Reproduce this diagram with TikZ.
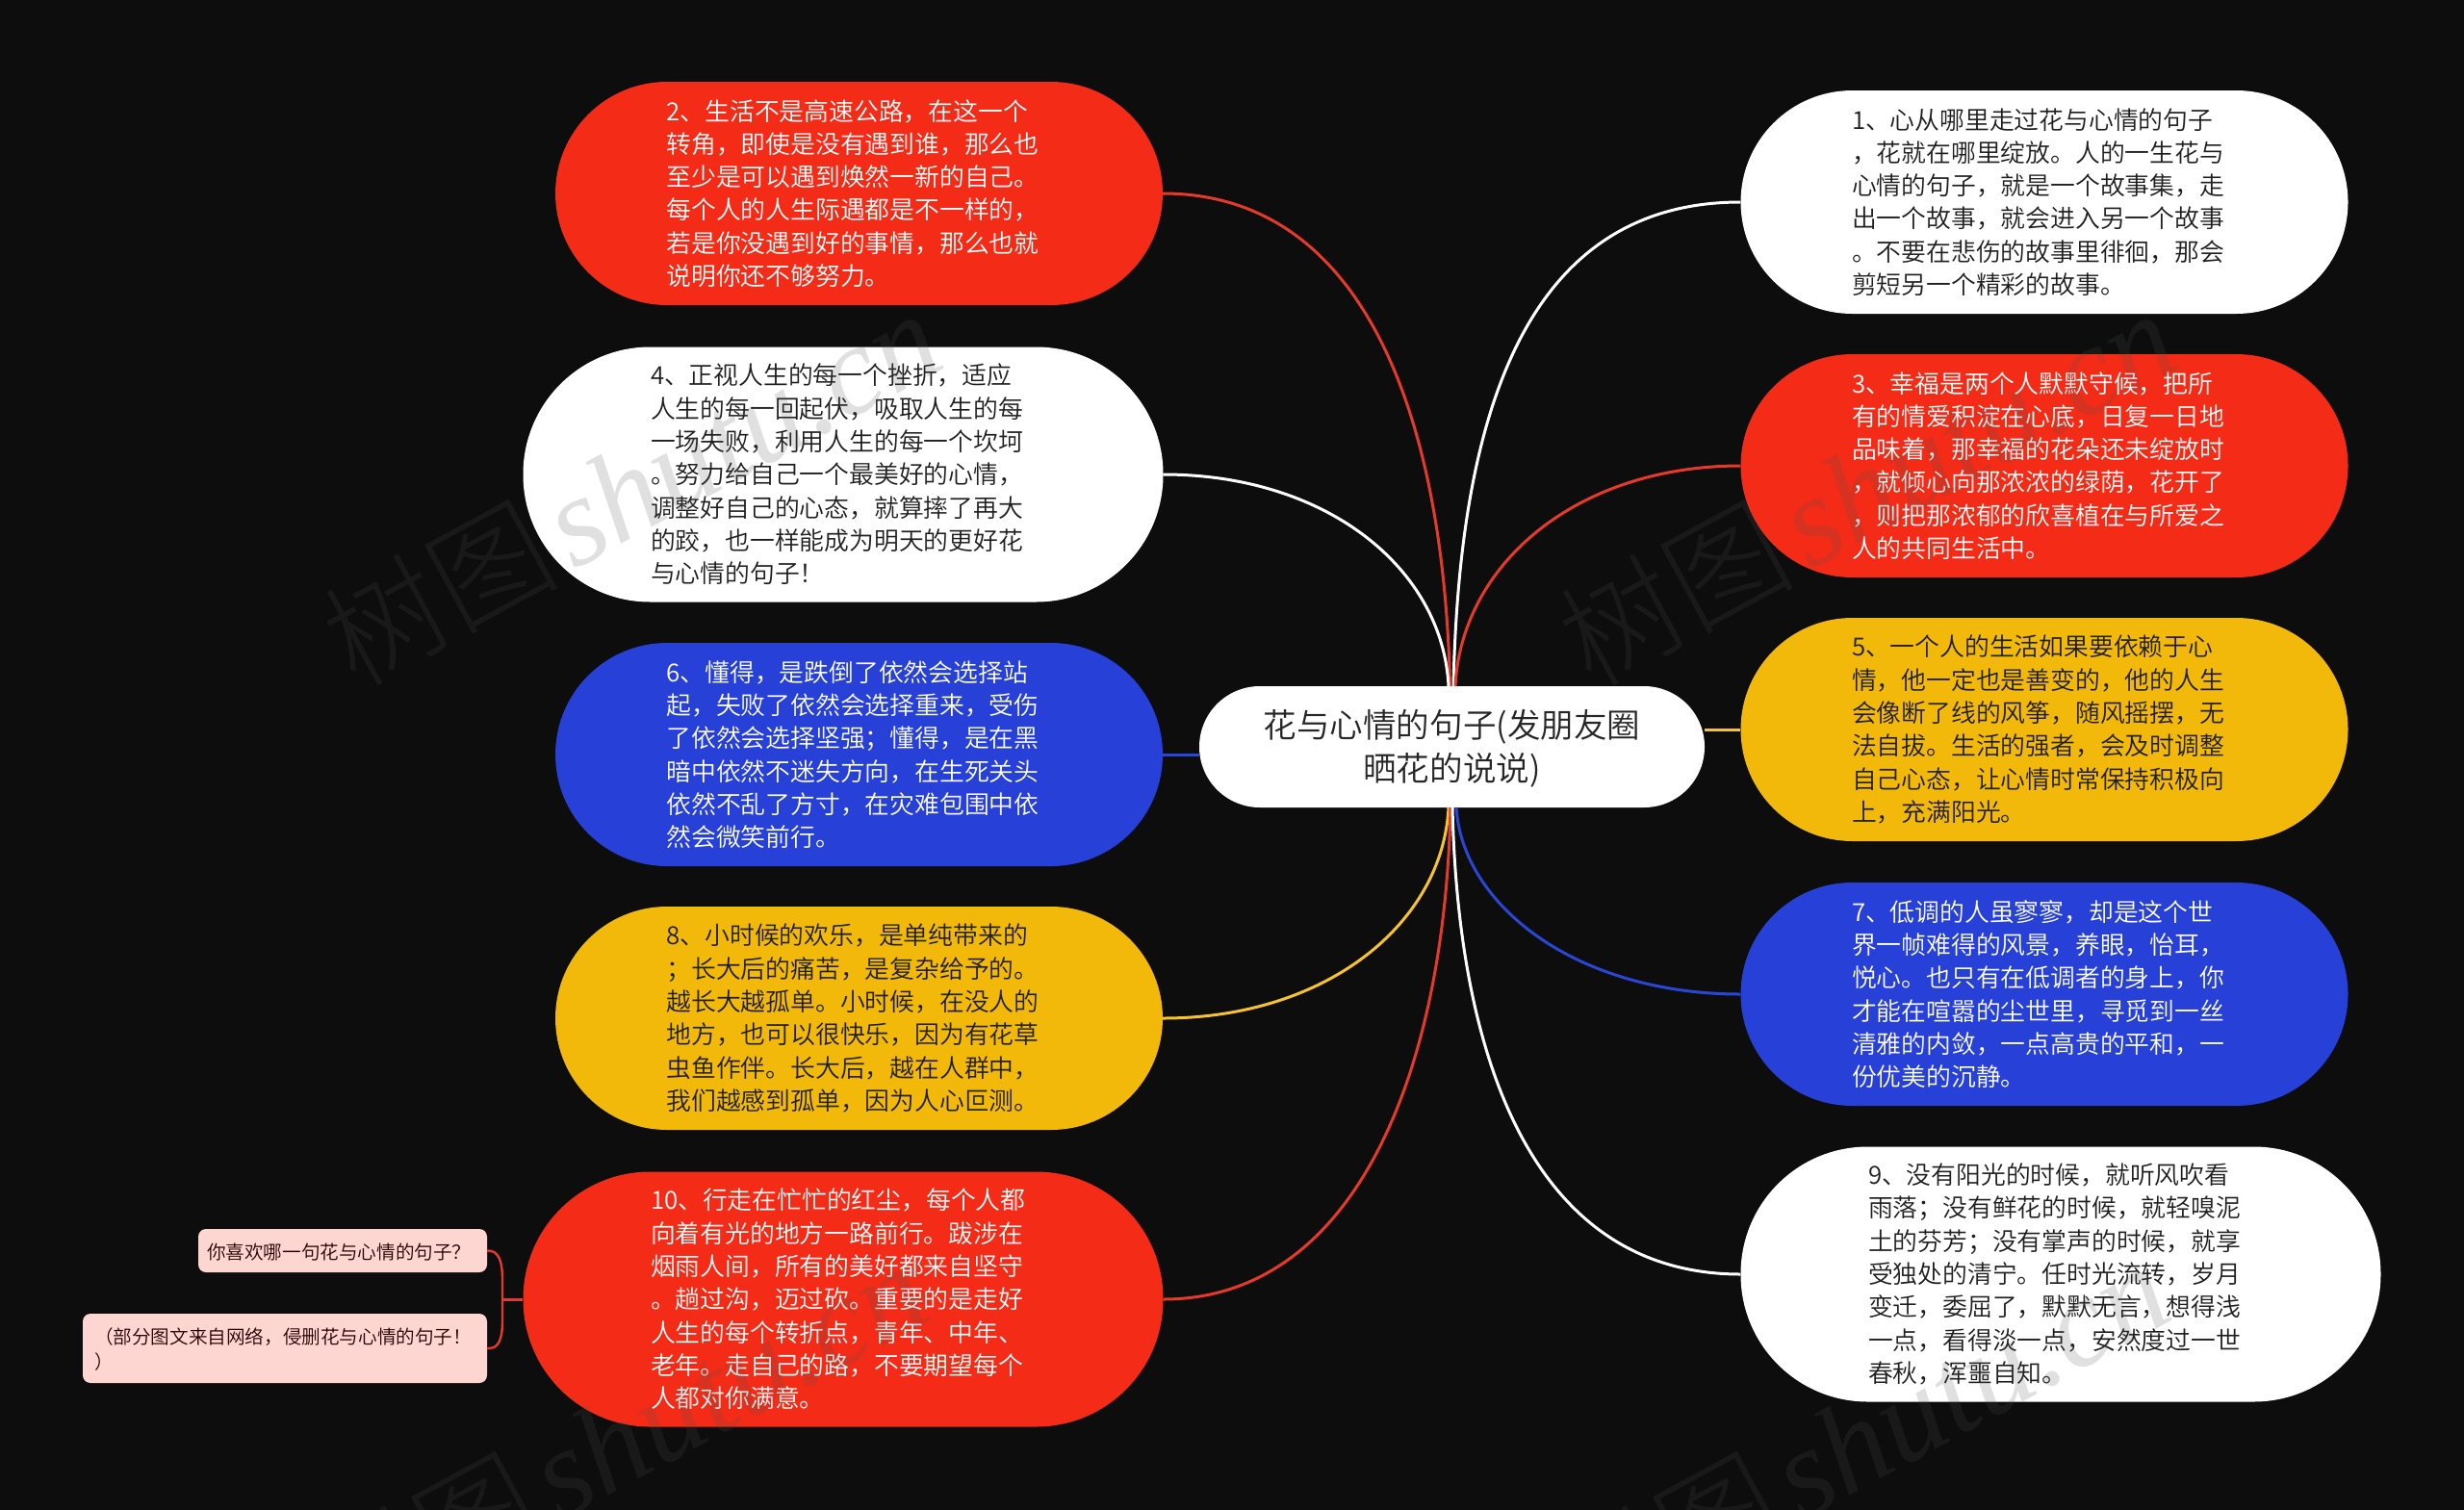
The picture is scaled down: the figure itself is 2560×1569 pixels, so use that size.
\documentclass[tikz,border=0pt]{standalone}
\usepackage{fontspec}
\setmainfont{Noto Sans CJK SC DemiLight}
\newfontfamily\wmcjk{Noto Sans CJK SC Light}
\newfontfamily\wmlat{Liberation Serif}[ItalicFont=* Italic]
\definecolor{bgk}{HTML}{0D0D0D}
\definecolor{mred}{HTML}{F32B17}
\definecolor{mblue}{HTML}{2640D8}
\definecolor{myel}{HTML}{F2B90A}
\definecolor{lred}{HTML}{E43A2C}
\definecolor{lblue}{HTML}{2A46D4}
\definecolor{lyel}{HTML}{F6C22E}
\definecolor{mpink}{HTML}{FDD5D1}
\definecolor{dtxt}{HTML}{1E1E1E}
\definecolor{wmk}{HTML}{555555}
\tikzset{
 body/.style={font=\fontsize{25.8}{34.3}\selectfont,align=left,text width=400pt,inner sep=0pt},
 pillS/.style={body,minimum width=631pt,minimum height=232pt,rounded corners=116pt},
 pillL/.style={body,minimum width=665pt,minimum height=265pt,rounded corners=132pt},
 cred/.style={fill=mred,text=white},
 cblue/.style={fill=mblue,text=white},
 cyel/.style={fill=myel,text=dtxt},
 cwhite/.style={fill=white,text=dtxt},
 tip/.style={fill=mpink,text=black!85!red,rounded corners=8pt,inner sep=0pt,align=left,font=\fontsize{19.6}{26}\selectfont},
 link/.style={line width=3pt},
 wmark/.style={text=wmk,text opacity=.18,rotate=28.5,inner sep=0pt}
}
\newcommand{\wmtext}{{\wmcjk\fontsize{122}{122}\selectfont 树图}\hspace{14pt}{\wmlat\itshape\fontsize{132}{132}\selectfont shutu.cn}}
\newcommand{\lowered}[2]{\raisebox{-#1}[\height][\depth]{#2}}
\begin{document}
\begin{tikzpicture}[x=1pt,y=-1pt]
\fill[bgk] (0,0) rectangle (2560,1569);
\useasboundingbox (0,0) rectangle (2560,1569);
% centre
\node[fill=white,text=black!85,rounded corners=63pt,minimum width=525pt,minimum height=126pt,inner sep=0pt,align=center,font=\fontsize{34.6}{45}\selectfont] (c) at (1508.5,776) {\lowered{1.5pt}{花与心情的句子(发朋友圈}\\\lowered{1.5pt}{晒花的说说)}};
% left
\node[pillS,cred] (n2) at (892.5,201) {2、生活不是高速公路，在这一个\\转角，即使是没有遇到谁，那么也\\至少是可以遇到焕然一新的自己。\\每个人的人生际遇都是不一样的，\\若是你没遇到好的事情，那么也就\\说明你还不够努力。};
\node[pillL,cwhite] (n4) at (876,493) {4、正视人生的每一个挫折，适应\\人生的每一回起伏，吸取人生的每\\一场失败，利用人生的每一个坎坷\\。努力给自己一个最美好的心情，\\调整好自己的心态，就算摔了再大\\的跤，也一样能成为明天的更好花\\与心情的句子！};
\node[pillS,cblue] (n6) at (892.5,784) {6、懂得，是跌倒了依然会选择站\\起，失败了依然会选择重来，受伤\\了依然会选择坚强；懂得，是在黑\\暗中依然不迷失方向，在生死关头\\依然不乱了方寸，在灾难包围中依\\然会微笑前行。};
\node[pillS,cyel] (n8) at (892.5,1058) {8、小时候的欢乐，是单纯带来的\\；长大后的痛苦，是复杂给予的。\\越长大越孤单。小时候，在没人的\\地方，也可以很快乐，因为有花草\\虫鱼作伴。长大后，越在人群中，\\我们越感到孤单，因为人心叵测。};
\node[pillL,cred] (n10) at (876,1350) {10、行走在忙忙的红尘，每个人都\\向着有光的地方一路前行。跋涉在\\烟雨人间，所有的美好都来自坚守\\。趟过沟，迈过砍。重要的是走好\\人生的每个转折点，青年、中年、\\老年。走自己的路，不要期望每个\\人都对你满意。};
% right
\node[pillS,cwhite] (n1) at (2124,210) {1、心从哪里走过花与心情的句子\\，花就在哪里绽放。人的一生花与\\心情的句子，就是一个故事集，走\\出一个故事，就会进入另一个故事\\。不要在悲伤的故事里徘徊，那会\\剪短另一个精彩的故事。};
\node[pillS,cred] (n3) at (2124,484) {3、幸福是两个人默默守候，把所\\有的情爱积淀在心底，日复一日地\\品味着，那幸福的花朵还未绽放时\\，就倾心向那浓浓的绿荫，花开了\\，则把那浓郁的欣喜植在与所爱之\\人的共同生活中。};
\node[pillS,cyel] (n5) at (2124,758) {5、一个人的生活如果要依赖于心\\情，他一定也是善变的，他的人生\\会像断了线的风筝，随风摇摆，无\\法自拔。生活的强者，会及时调整\\自己心态，让心情时常保持积极向\\上，充满阳光。};
\node[pillS,cblue] (n7) at (2124,1033) {7、低调的人虽寥寥，却是这个世\\界一帧难得的风景，养眼，怡耳，\\悦心。也只有在低调者的身上，你\\才能在喧嚣的尘世里，寻觅到一丝\\清雅的内敛，一点高贵的平和，一\\份优美的沉静。};
\node[pillL,cwhite] (n9) at (2141,1324) {9、没有阳光的时候，就听风吹看\\雨落；没有鲜花的时候，就轻嗅泥\\土的芬芳；没有掌声的时候，就享\\受独处的清宁。任时光流转，岁月\\变迁，委屈了，默默无言，想得浅\\一点，看得淡一点，安然度过一世\\春秋，浑噩自知。};
% tips
\node[tip,minimum width=300pt,minimum height=45pt,text width=282pt] (a) at (356,1299.5) {\lowered{1.5pt}{你喜欢哪一句花与心情的句子？}};
\node[tip,minimum width=420pt,minimum height=72pt,text width=396pt] (b) at (296,1401) {\lowered{1pt}{（部分图文来自网络，侵删花与心情的句子！}\\\lowered{1.5pt}{）}};
% anchors on the central node
\coordinate (tA) at (1505,713);
\coordinate (tB) at (1506.5,713);
\coordinate (tC) at (1510,713);
\coordinate (tD) at (1512,713);
\coordinate (bA) at (1505,839);
\coordinate (bB) at (1507,839);
\coordinate (bC) at (1509,839);
\coordinate (bD) at (1513,839);
\coordinate (brk) at (522,1350);
% connectors
\draw[link,lred] (n2.east) .. controls (1416,201) and (1500,430) .. (tB);
\draw[link,white] (n4.east) .. controls (1380,493) and (1499,592) .. (tA);
\draw[link,lblue] (n6.east) -- (c.west |- n6.east);
\draw[link,lyel] (n8.east) .. controls (1380,1058) and (1499,958) .. (bA);
\draw[link,lred] (n10.east) .. controls (1405,1350) and (1501,1120) .. (bB);
\draw[link,white] (n1.west) .. controls (1580,210) and (1516,440) .. (tC);
\draw[link,lred] (n3.west) .. controls (1637,484) and (1518,587) .. (tD);
\draw[link,lyel] (n5.west) -- (c.east |- n5.west);
\draw[link,lblue] (n7.west) .. controls (1637,1033) and (1519,940) .. (bD);
\draw[link,white] (n9.west) .. controls (1595,1324) and (1515,1105) .. (bC);
\draw[link,lred] (n10.west) -- (brk);
\draw[link,lred,line width=2.4pt] (a.east) .. controls (518,1299) and (522,1310) .. (522,1330) -- (brk) -- (522,1372) .. controls (522,1392) and (518,1402) .. (b.east);
% watermark
\node[wmark] (w1) at (656,507) {\wmtext};
\node[wmark] (w2) at (1940,507) {\wmtext};
\node[wmark] (w3) at (642,1496) {\wmtext};
\node[wmark] (w4) at (1932,1496) {\wmtext};
\end{tikzpicture}
\end{document}
